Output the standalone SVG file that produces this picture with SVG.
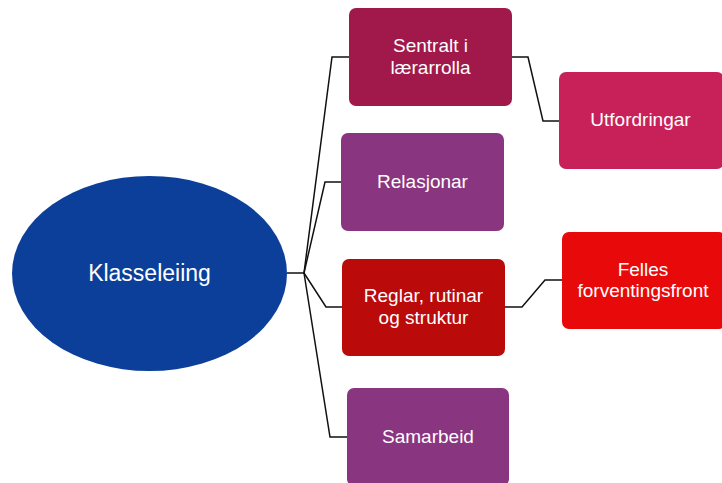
<svg xmlns="http://www.w3.org/2000/svg" width="722" height="483" viewBox="0 0 722 483">
<style>
.box{stroke:none}
.t{font-family:"Liberation Sans",Arial,sans-serif;font-size:19px;fill:#ffffff;text-anchor:middle}
.big{font-size:23px}
.c{fill:none;stroke:#111111;stroke-width:1.5;stroke-linejoin:miter}
</style>
<rect width="722" height="483" fill="#ffffff"/>
<g id="connectors">
<path class="c" d="M287,273 H304 L332,57 H349"/>
<path class="c" d="M304,273 L325,182 H341"/>
<path class="c" d="M304,273 L326,307 H342"/>
<path class="c" d="M304,273 L330,437 H347"/>
<path class="c" d="M512,57 H528 L543,121 H559"/>
<path class="c" d="M505,307 H522 L545,280 H562"/>
</g>
<g id="klasseleiing">
<ellipse cx="149.5" cy="273.5" rx="137.5" ry="97.5" fill="#0B3F99"/>
<text class="t big" x="149.5" y="281">Klasseleiing</text>
</g>
<g id="sentralt">
<rect class="box" x="349" y="8" width="163" height="98" rx="7" fill="#A0194A"/>
<text class="t" x="430.5" y="52">Sentralt i</text>
<text class="t" x="430.5" y="74">lærarrolla</text>
</g>
<g id="relasjonar">
<rect class="box" x="341" y="133" width="163" height="98" rx="7" fill="#8A357F"/>
<text class="t" x="422.5" y="188">Relasjonar</text>
</g>
<g id="reglar">
<rect class="box" x="342" y="259" width="163" height="97" rx="7" fill="#BA0A0A"/>
<text class="t" x="423.5" y="302">Reglar, rutinar</text>
<text class="t" x="423.5" y="324">og struktur</text>
</g>
<g id="samarbeid">
<rect class="box" x="347" y="388" width="162" height="98" rx="7" fill="#8A357F"/>
<text class="t" x="428" y="443">Samarbeid</text>
</g>
<g id="utfordringar">
<rect class="box" x="559" y="72" width="165" height="97" rx="7" fill="#C8215A"/>
<text class="t" x="640.5" y="126">Utfordringar</text>
</g>
<g id="felles">
<rect class="box" x="562" y="232" width="164" height="97" rx="7" fill="#E80A0A"/>
<text class="t" x="643" y="276">Felles</text>
<text class="t" x="643" y="297">forventingsfront</text>
</g>
</svg>
